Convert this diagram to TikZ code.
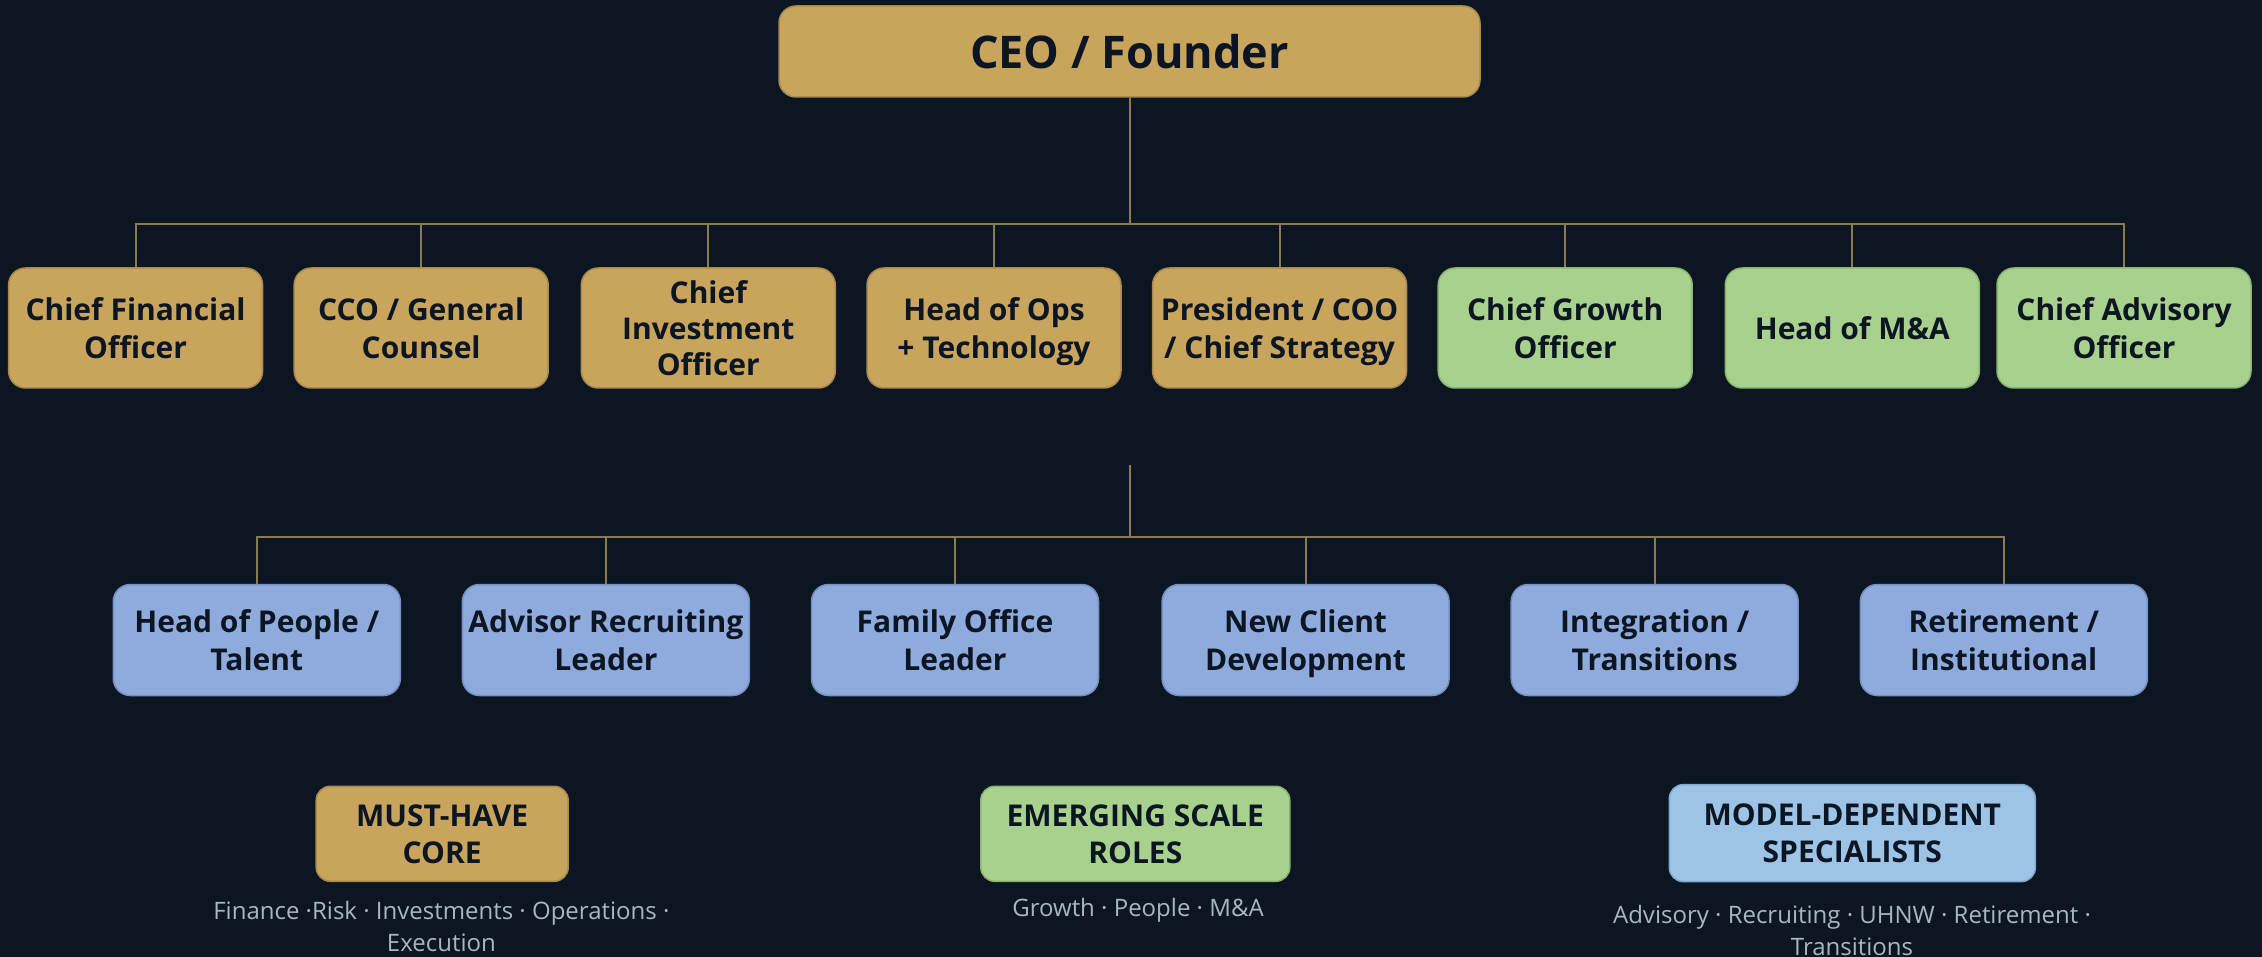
\documentclass[tikz,border=0pt]{standalone}
\usepackage{fontspec}
\setmainfont{Open Sans}
\newfontfamily\tagfont{Open Sans}

\definecolor{bg}{HTML}{0B1622}
\definecolor{ink}{HTML}{0B1622}
\definecolor{gold}{HTML}{C8A45C}
\definecolor{goldedge}{HTML}{A98A4C}
\definecolor{sage}{HTML}{A9D18E}
\definecolor{sageedge}{HTML}{8CB372}
\definecolor{steel}{HTML}{8FAADC}
\definecolor{steeledge}{HTML}{7590C0}
\definecolor{sky}{HTML}{9DC3E6}
\definecolor{skyedge}{HTML}{82A8CC}
\definecolor{wire}{HTML}{8B7B52}
\definecolor{note}{HTML}{A9B6C2}

% a line whose descenders should not shift the label off centre
\newcommand\nodepth[1]{\raisebox{0pt}[\height][0pt]{#1}}

\tikzset{
  role/.style={rounded corners=17pt, line width=1.5pt, text=ink, align=center,
    inner sep=0pt, font=\tagfont\bfseries\fontsize{30}{38}\selectfont},
  tierbox/.style={role, minimum width=254pt, minimum height=120pt},
  corebox/.style={tierbox, fill=gold, draw=goldedge},
  growbox/.style={tierbox, fill=sage, draw=sageedge},
  specbox/.style={role, fill=steel, draw=steeledge, minimum width=287pt, minimum height=111pt},
  keybox/.style={role, rounded corners=14pt, minimum height=95pt,
    font=\tagfont\bfseries\fontsize{30}{37}\selectfont},
  notetext/.style={text=note, align=center, inner sep=0pt,
    font=\tagfont\fontsize{24}{32}\selectfont},
  link/.style={draw=wire, line width=2pt}
}

\begin{document}
\begin{tikzpicture}[x=1pt, y=-1pt]
  % canvas
  \fill[bg] (0,0) rectangle (2262,957);
  \useasboundingbox (0,0) rectangle (2262,957);

  % top of the chart
  \node[role, fill=gold, draw=goldedge, minimum width=701pt, minimum height=91pt,
        font=\tagfont\bfseries\fontsize{45}{52}\selectfont]
        (ceo) at (1129.5,51.5) {\nodepth{CEO / Founder}};

  % executive row
  \node[corebox] (cfo)  at (135.6,328)  {Chief Financial\\Officer};
  \node[corebox] (cco)  at (421.2,328)  {CCO / General\\Counsel};
  \node[corebox, font=\tagfont\bfseries\fontsize{30}{36}\selectfont]
                 (cio)  at (708.3,328)  {Chief\\Investment\\Officer};
  \node[corebox] (ops)  at (994.0,328)  {Head of Ops\\\nodepth{+ Technology}};
  \node[corebox] (pres) at (1279.6,328) {President / COO\\\nodepth{/ Chief Strategy}};
  \node[growbox] (cgo)  at (1565.2,328) {Chief Growth\\Officer};
  \node[growbox] (ma)   at (1852.3,328) {Head of M\&A};
  \node[growbox] (cao)  at (2124.0,328) {Chief Advisory\\Officer};

  % specialist row
  \node[specbox] (people) at (256.8,640)  {Head of People /\\Talent};
  \node[specbox] (recr)   at (605.9,640)  {Advisor Recruiting\\Leader};
  \node[specbox] (family) at (955.0,640)  {Family Office\\Leader};
  \node[specbox] (newcl)  at (1305.6,640) {New Client\\\nodepth{Development}};
  \node[specbox] (integ)  at (1654.7,640) {Integration /\\Transitions};
  \node[specbox] (retire) at (2003.8,640) {Retirement /\\Institutional};

  % executive bus
  \coordinate (j1) at (1129.5,223.6);
  \draw[link] (ceo.south) -- (j1);
  \draw[link] (cfo.north) |- (j1) -| (cao.north);
  \foreach \n in {cco,cio,ops,pres,cgo,ma}
    \draw[link] (\n.north) -- (\n.north |- j1);

  % specialist bus
  \coordinate (hang) at (1129.5,464.5);
  \coordinate (j2) at (1129.5,536.6);
  \draw[link] (hang) -- (j2);
  \draw[link] (people.north) |- (j2) -| (retire.north);
  \foreach \n in {recr,family,newcl,integ}
    \draw[link] (\n.north) -- (\n.north |- j2);

  % key
  \node[keybox, fill=gold, draw=goldedge, minimum width=252pt]
        (kcore) at (442.2,833.8) {MUST-HAVE\\CORE};
  \node[keybox, fill=sage, draw=sageedge, minimum width=309pt]
        (kgrow) at (1135.3,833.8) {EMERGING SCALE\\ROLES};
  \node[keybox, fill=sky, draw=skyedge, minimum width=366pt, minimum height=97pt]
        (kspec) at (1852.3,833.1) {MODEL-DEPENDENT\\SPECIALISTS};

  \node[notetext] (ncore) at (441.4,926) {Finance ·Risk · Investments · Operations ·\\Execution};
  \node[notetext] (ngrow) at (1138,910)  {Growth · People · M\&A};
  \node[notetext] (nspec) at (1852,930)  {Advisory · Recruiting · UHNW · Retirement ·\\Transitions};
\end{tikzpicture}
\end{document}
